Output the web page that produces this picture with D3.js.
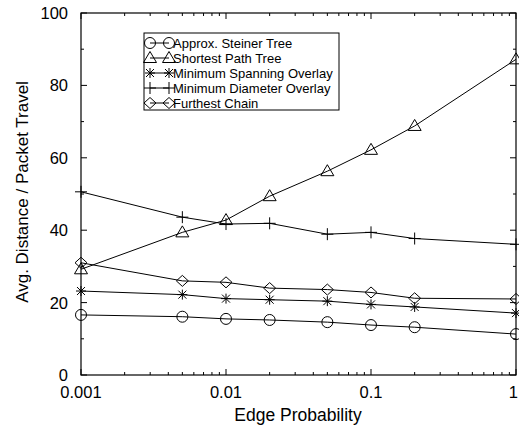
<!DOCTYPE html>
<html><head><meta charset="utf-8">
<script src="https://cdn.jsdelivr.net/npm/d3@7"></script>
<style>body{margin:0;background:#fff}svg{display:block}text{font-family:"Liberation Sans",Arial,sans-serif;fill:#000}</style>
</head><body><svg id="c" width="519" height="429"></svg>
<script>
const xValues = [0.001, 0.005, 0.01, 0.02, 0.05, 0.1, 0.2, 1];
const steiner = [16.6, 16.1, 15.5, 15.2, 14.6, 13.8, 13.2, 11.3];
const shortestPath = [29.2, 39.4, 42.8, 49.4, 56.3, 62.2, 68.8, 87.2];
const minSpanning = [23.2, 22.2, 21.1, 20.8, 20.4, 19.5, 18.8, 17.1];
const minDiameter = [50.6, 43.6, 41.7, 41.9, 38.9, 39.4, 37.7, 36.1];
const furthest = [31.0, 26.0, 25.6, 24.0, 23.6, 22.8, 21.2, 21.0];
const seriesNames = ["Approx. Steiner Tree","Shortest Path Tree","Minimum Spanning Overlay","Minimum Diameter Overlay","Furthest Chain"];
const seriesMarkers = ["circle","triangle","star","plus","diamond"];
const xTickLabels = ["0.001","0.01","0.1","1"];
const yTickValues = [0,20,40,60,80,100];

const series = [steiner, shortestPath, minSpanning, minDiameter, furthest];
const svg = d3.select("#c");
const L=81, R=516, T=13, B=375;
const x = d3.scaleLog().domain([0.001,1]).range([L,R]);
const y = d3.scaleLinear().domain([0,100]).range([B,T]);

function marker(g, type, cx, cy){
  if(type==="circle") g.append("circle").attr("cx",cx).attr("cy",cy).attr("r",5.5).attr("fill","none").attr("stroke","#000");
  else if(type==="triangle") g.append("path").attr("d",`M${cx},${cy-6.5}L${cx+6.5},${cy+4.5}L${cx-6.5},${cy+4.5}Z`).attr("fill","none").attr("stroke","#000");
  else if(type==="diamond") g.append("path").attr("d",`M${cx},${cy-5.5}L${cx+6},${cy}L${cx},${cy+5.5}L${cx-6},${cy}Z`).attr("fill","none").attr("stroke","#000");
  else if(type==="plus") g.append("path").attr("d",`M${cx-6},${cy}H${cx+6}M${cx},${cy-6}V${cy+6}`).attr("stroke","#000");
  else if(type==="star") g.append("path").attr("d",`M${cx-5},${cy}H${cx+5}M${cx},${cy-5}V${cy+5}M${cx-4},${cy-4}L${cx+4},${cy+4}M${cx-4},${cy+4}L${cx+4},${cy-4}`).attr("stroke","#000");
}

svg.append("rect").attr("x",L).attr("y",T).attr("width",R-L).attr("height",B-T).attr("fill","none").attr("stroke","#000").attr("stroke-width",1.2);

const ax = svg.append("g").attr("stroke","#000").attr("stroke-width",1);
const majorX = [0.001,0.01,0.1,1];
const minorX = [];
[0.001,0.01,0.1].forEach(d=>{for(let k=2;k<=9;k++) minorX.push(d*k);});
majorX.forEach(v=>{const px=x(v);ax.append("line").attr("x1",px).attr("x2",px).attr("y1",B).attr("y2",B-6);ax.append("line").attr("x1",px).attr("x2",px).attr("y1",T).attr("y2",T+6);});
minorX.forEach(v=>{const px=x(v);ax.append("line").attr("x1",px).attr("x2",px).attr("y1",B).attr("y2",B-3);ax.append("line").attr("x1",px).attr("x2",px).attr("y1",T).attr("y2",T+3);});
d3.range(0,101,10).forEach(v=>{const py=y(v);const len=(v%20===0)?6:3;ax.append("line").attr("x1",L).attr("x2",L+len).attr("y1",py).attr("y2",py);ax.append("line").attr("x1",R).attr("x2",R-len).attr("y1",py).attr("y2",py);});

majorX.forEach((v,i)=>{
  const last = i===majorX.length-1;
  svg.append("text").attr("x",last?518:x(v)).attr("y",B+23).attr("text-anchor",last?"end":"middle").attr("font-size",16.5).text(xTickLabels[i]);
});
yTickValues.forEach(v=>svg.append("text").attr("x",L-13).attr("y",y(v)+6).attr("text-anchor","end").attr("font-size",16.5).text(v));

svg.append("text").attr("x",298).attr("y",421).attr("text-anchor","middle").attr("font-size",17.5).text("Edge Probability");
svg.append("text").attr("transform",`translate(28,192) rotate(-90)`).attr("text-anchor","middle").attr("font-size",17).text("Avg. Distance / Packet Travel");

const line = d3.line().x((d,i)=>x(xValues[i])).y(d=>y(d));
series.forEach((vals,si)=>{
  const g = svg.append("g");
  g.append("path").attr("d",line(vals)).attr("fill","none").attr("stroke","#000").attr("stroke-width",1);
  vals.forEach((v,i)=>marker(g,seriesMarkers[si],x(xValues[i]),y(v)));
});

const lg = svg.append("g");
const lx=144, ly=33, lw=195, rowH=15;
lg.append("rect").attr("x",lx).attr("y",ly).attr("width",lw).attr("height",rowH*5+2).attr("fill","#fff").attr("stroke","#000");
seriesNames.forEach((n,i)=>{
  const cy = ly+10+i*rowH;
  lg.append("line").attr("x1",lx+6).attr("x2",lx+25).attr("y1",cy).attr("y2",cy).attr("stroke","#000");
  marker(lg,seriesMarkers[i],lx+6,cy);
  marker(lg,seriesMarkers[i],lx+25,cy);
  lg.append("text").attr("x",lx+29).attr("y",cy+4.5).attr("font-size",13).text(n);
});
</script></body></html>
